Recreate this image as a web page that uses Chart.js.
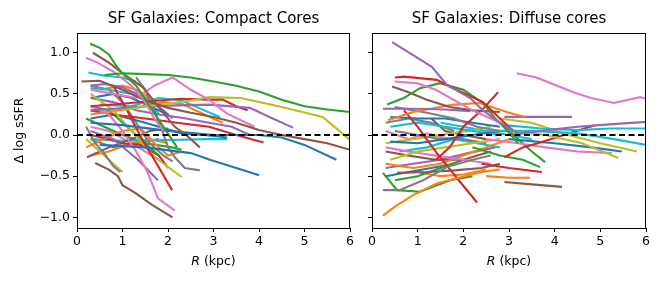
<!DOCTYPE html>
<html lang="en">
<head>
<meta charset="UTF-8">
<title>SF Galaxies profiles</title>
<script src="https://cdn.jsdelivr.net/npm/chart.js"></script>
<style>
  body { margin: 0; background: #fff; }
  #wrap { position: relative; width: 664px; height: 285px; }
  canvas { position: absolute; top: 0; }
</style>
</head>
<body>
<div id="wrap">
  <canvas id="compact" style="left:0" width="358" height="285"></canvas>
  <canvas id="diffuse" style="left:358px" width="306" height="285"></canvas>
</div>
<script>
// tab10 cycle
const C = { blue:'#1f77b4', orange:'#ff7f0e', green:'#2ca02c', red:'#d62728', purple:'#9467bd',
            brown:'#8c564b', pink:'#e377c2', gray:'#7f7f7f', olive:'#bcbd22', cyan:'#17becf' };

const xTicks = [0, 1, 2, 3, 4, 5, 6];
const yTicks = [-1.0, -0.5, 0.0, 0.5, 1.0];

// Compact cores: each profile is a list of [R (kpc), delta log sSFR]
const compactProfiles = [
  [[0.29,1.11],[0.5,1.06],[0.7,0.98],[0.85,0.85],[1.0,0.75],[1.3,0.6],[1.6,0.35],[1.9,0.1],[2.2,-0.15]],
  [[0.6,0.73],[1.0,0.75],[1.5,0.74],[2.0,0.73],[2.5,0.7],[3.0,0.65],[3.5,0.6],[4.0,0.53],[4.5,0.43],[5.0,0.35],[5.5,0.31],[6.0,0.28]],
  [[0.2,0.94],[0.45,0.88],[0.8,0.77],[1.2,0.6],[1.5,0.4],[1.7,0.2],[1.9,0.05]],
  [[0.35,1.0],[0.7,0.88],[1.05,0.73],[1.45,0.58],[1.8,0.34],[2.15,0.1],[2.4,0.0],[2.7,-0.15]],
  [[0.25,0.76],[0.6,0.72],[1.0,0.7],[1.3,0.65]],
  [[0.1,0.65],[0.5,0.66],[1.0,0.55],[1.5,0.42],[2.0,0.33],[2.5,0.27],[3.0,0.22],[3.5,0.15],[4.0,0.06],[4.5,0.0],[5.0,-0.05],[5.5,-0.1],[6.0,-0.18]],
  [[0.3,0.55],[0.8,0.5],[1.3,0.45],[1.7,0.6],[2.1,0.7],[2.5,0.55],[2.9,0.43],[3.3,0.26],[3.9,0.1]],
  [[1.0,0.3],[1.5,0.35],[2.0,0.38],[2.5,0.42],[2.9,0.46],[3.6,0.45],[4.5,0.34],[5.4,0.22],[6.0,-0.06]],
  [[0.3,0.3],[0.8,0.32],[1.5,0.35],[2.2,0.36],[2.9,0.37],[3.8,0.33],[4.3,0.2],[4.75,0.09]],
  [[0.3,0.35],[1.0,0.38],[1.8,0.42],[2.3,0.44],[2.9,0.43],[3.2,0.43],[3.5,0.35],[3.75,0.3]],
  [[0.3,0.15],[1.0,0.12],[2.0,0.05],[3.0,0.0],[4.0,0.0],[4.5,-0.03],[5.0,-0.12],[5.7,-0.3]],
  [[0.5,-0.12],[1.5,-0.15],[2.5,-0.22],[2.92,-0.3],[3.5,-0.4],[4.0,-0.49]],
  [[0.4,-0.34],[0.7,-0.42],[0.9,-0.5],[1.0,-0.61],[1.27,-0.7],[1.65,-0.85],[2.1,-1.0]],
  [[0.3,0.35],[0.7,0.25],[1.0,0.05],[1.3,-0.2],[1.55,-0.45],[1.78,-0.77],[2.15,-0.92]],
  [[0.8,0.6],[1.1,0.3],[1.43,-0.05],[1.7,-0.3],[2.09,-0.67]],
  [[0.3,0.05],[0.8,-0.05],[1.34,-0.3],[1.6,-0.45],[1.78,-0.55]],
  [[0.3,0.5],[0.8,0.3],[1.2,0.05],[1.71,-0.27],[2.3,-0.51]],
  [[0.2,0.1],[0.4,-0.1],[0.62,-0.24],[0.8,-0.38],[0.95,-0.45]],
  [[1.3,0.7],[1.5,0.55],[1.7,0.3],[1.87,0.06],[2.0,-0.15],[2.15,-0.27],[2.37,-0.4],[2.7,-0.43]],
  [[0.3,0.25],[0.9,0.3],[1.5,0.35],[1.9,0.4],[2.3,0.38],[2.8,0.25],[3.2,0.15]],
  [[0.2,-0.15],[0.6,-0.05],[1.0,0.05],[1.4,0.08],[1.7,-0.1],[2.0,-0.25],[2.3,-0.2]],
  [[0.5,0.37],[1.2,0.35],[1.8,0.45],[2.3,0.42],[2.8,0.3],[3.14,0.22]],
  [[0.3,0.3],[0.8,0.25],[1.5,0.2],[2.2,0.15],[2.9,0.1],[3.5,0.0],[4.1,-0.09]],
  [[0.3,0.45],[0.8,0.4],[1.3,0.3],[1.8,0.25],[2.4,0.2],[2.9,0.15],[3.4,0.1],[3.8,0.0]],
  [[0.3,0.2],[0.8,0.25],[1.3,0.18],[1.8,0.1],[2.3,0.02],[2.8,0.0],[3.3,-0.03]],
  [[0.3,0.45],[0.8,0.5],[1.2,0.45],[1.6,0.35],[2.0,0.25]],
  [[0.3,0.57],[0.7,0.55],[1.2,0.5],[1.6,0.4],[1.8,0.25]],
  [[0.3,0.35],[0.7,0.3],[1.1,0.1],[1.5,-0.1],[1.8,-0.25]],
  [[0.2,-0.05],[0.5,-0.2],[0.8,-0.35],[1.0,-0.45]],
  [[0.3,0.6],[0.7,0.55],[1.0,0.4],[1.3,0.15],[1.6,-0.1],[1.9,-0.25],[2.1,-0.32]],
  [[0.3,0.0],[0.7,-0.05],[1.0,-0.1],[1.4,-0.12],[1.8,-0.25],[2.0,-0.4]],
  [[0.22,-0.27],[0.7,-0.15],[1.2,-0.05],[1.6,0.05],[2.0,0.08]],
  [[0.3,-0.05],[1.0,-0.07],[2.0,-0.06],[2.9,-0.05],[3.3,-0.05]],
  [[0.3,-0.25],[0.7,-0.2],[1.2,-0.1],[1.6,-0.05],[2.0,-0.1]],
  [[0.2,0.2],[0.6,0.1],[1.0,0.0],[1.5,-0.1],[2.09,-0.15],[2.3,-0.18]],
  [[0.3,0.1],[0.7,0.05],[1.2,-0.1],[1.5,-0.2],[1.8,-0.3]],
  [[0.3,-0.05],[0.8,-0.15],[1.3,-0.1],[1.8,-0.05]],
  [[0.3,0.6],[0.6,0.62],[1.0,0.58],[1.5,0.45],[1.9,0.3],[2.1,0.2]],
  [[0.5,0.55],[1.0,0.6],[1.3,0.55],[1.6,0.45]]
];
const compactColors = [
  C.green, C.green, C.pink, C.brown, C.cyan, C.brown, C.pink, C.olive, C.purple, C.red,
  C.blue, C.blue, C.brown, C.pink, C.red, C.purple, C.olive, C.gray, C.gray, C.orange,
  C.orange, C.cyan, C.red, C.purple, C.blue, C.blue, C.cyan, C.green, C.olive, C.gray,
  C.red, C.brown, C.cyan, C.orange, C.green, C.pink, C.gray, C.purple, C.orange
];

// Diffuse cores
const diffuseProfiles = [
  [[0.44,1.13],[0.9,0.97],[1.31,0.83],[1.64,0.61],[2.15,0.45],[2.43,0.3],[2.8,0.15],[3.2,0.02]],
  [[0.5,0.7],[0.7,0.71],[1.42,0.67],[1.7,0.59],[2.43,0.4],[2.8,0.2],[3.1,0.05]],
  [[0.5,0.65],[0.99,0.63],[1.4,0.55],[1.78,0.43],[2.2,0.3],[2.6,0.2],[3.0,0.1]],
  [[0.33,0.37],[0.7,0.45],[1.05,0.57],[1.49,0.63],[2.0,0.55],[2.43,0.39],[2.7,0.2],[2.95,0.06],[3.2,-0.1]],
  [[0.44,0.59],[0.8,0.52],[1.2,0.43],[1.7,0.34],[2.2,0.3],[2.8,0.28]],
  [[1.4,-0.3],[1.7,-0.15],[2.0,0.1],[2.4,0.3],[2.76,0.52]],
  [[0.24,0.32],[1.0,0.32],[1.6,0.31],[2.15,0.29]],
  [[0.35,0.18],[0.9,0.28],[1.78,0.37],[2.36,0.39],[3.0,0.27],[3.35,0.22]],
  [[0.5,0.34],[1.2,0.27],[1.8,0.2],[2.3,0.1],[2.8,0.05]],
  [[3.17,0.75],[3.6,0.7],[4.0,0.61],[4.45,0.51],[4.8,0.45],[5.3,0.39],[5.87,0.46],[6.0,0.44]],
  [[2.9,0.22],[3.5,0.22],[4.38,0.22]],
  [[3.0,0.0],[3.7,0.05],[4.5,0.1],[5.2,0.13],[6.0,0.16]],
  [[2.9,0.12],[3.7,0.08],[4.5,0.06],[5.2,0.08],[6.0,0.08]],
  [[2.5,0.05],[3.5,0.05],[4.5,0.02],[5.3,-0.05],[6.0,-0.12]],
  [[2.8,0.2],[3.5,0.15],[4.3,0.0],[5.0,-0.1],[5.8,-0.2]],
  [[3.0,0.05],[3.8,0.0],[4.6,-0.1],[5.4,-0.28]],
  [[2.9,-0.27],[3.3,-0.15],[3.63,-0.1],[4.2,0.0],[4.88,0.12]],
  [[2.4,-0.35],[3.0,-0.4],[3.72,-0.45]],
  [[2.2,-0.15],[2.8,-0.25],[3.3,-0.3],[3.68,-0.39]],
  [[2.5,-0.5],[3.0,-0.52],[3.46,-0.52]],
  [[2.9,-0.57],[3.5,-0.6],[4.16,-0.63]],
  [[3.0,-0.05],[4.0,-0.1],[4.8,-0.15],[5.47,-0.2]],
  [[2.5,-0.05],[3.2,-0.1],[3.8,-0.15],[4.5,-0.2],[5.25,-0.22]],
  [[2.9,0.12],[3.2,-0.05],[3.5,-0.2],[3.79,-0.33]],
  [[0.24,-0.98],[0.5,-0.87],[0.9,-0.73],[1.42,-0.59],[1.9,-0.52],[2.4,-0.45],[2.8,-0.42]],
  [[0.24,-0.67],[0.6,-0.67],[1.12,-0.55],[1.64,-0.39],[2.2,-0.3],[2.6,-0.25]],
  [[0.24,-0.46],[0.55,-0.67],[1.05,-0.69],[1.71,-0.55],[2.2,-0.5]],
  [[0.7,0.3],[1.0,0.1],[1.42,-0.22],[1.9,-0.55],[2.3,-0.82]],
  [[0.55,-0.46],[1.2,-0.45],[1.8,-0.43],[2.4,-0.4],[2.8,-0.35]],
  [[0.4,-0.08],[1.0,-0.1],[1.6,-0.05],[2.2,0.0],[2.8,0.05]],
  [[0.4,0.22],[1.0,0.2],[1.6,0.2],[2.2,0.15],[2.8,0.1]],
  [[0.4,0.1],[1.0,0.15],[1.6,0.1],[2.2,0.05],[2.8,0.0]],
  [[0.4,-0.3],[1.0,-0.2],[1.6,-0.15],[2.2,-0.1],[2.8,-0.05]],
  [[0.3,-0.15],[0.8,-0.2],[1.4,-0.25],[2.0,-0.3],[2.6,-0.35]],
  [[0.5,0.05],[1.0,0.0],[1.5,-0.05],[2.0,-0.05],[2.5,-0.1]],
  [[0.3,-0.35],[0.9,-0.4],[1.5,-0.35],[2.0,-0.25],[2.5,-0.15],[3.0,-0.05]],
  [[0.6,-0.2],[1.2,-0.15],[1.8,-0.05],[2.3,-0.1],[2.8,-0.15]],
  [[0.3,-0.2],[0.8,-0.25],[1.4,-0.3],[2.0,-0.3],[2.6,-0.2]],
  [[0.5,-0.55],[1.0,-0.5],[1.5,-0.4],[2.0,-0.3]],
  [[0.3,-0.4],[0.9,-0.35],[1.5,-0.3],[2.1,-0.22],[2.7,-0.15]],
  [[0.3,-0.1],[0.9,-0.05],[1.5,0.0],[2.1,0.05],[2.6,0.1]],
  [[0.3,-0.5],[0.8,-0.45],[1.3,-0.4],[1.8,-0.35]],
  [[1.0,-0.45],[1.5,-0.5],[2.0,-0.48],[2.5,-0.42]],
  [[1.3,0.2],[1.6,0.05],[2.0,0.0],[2.5,-0.05]],
  [[0.3,0.05],[0.8,-0.05],[1.2,0.02],[1.7,-0.05]],
  [[0.3,0.15],[0.8,0.2],[1.3,0.15],[1.8,0.05]],
  [[1.5,0.15],[2.0,0.1],[2.5,0.05],[3.0,0.0],[3.5,-0.05]]
];
const diffuseColors = [
  C.purple, C.red, C.pink, C.green, C.brown, C.red, C.purple, C.orange, C.gray, C.pink,
  C.purple, C.purple, C.cyan, C.cyan, C.olive, C.olive, C.red, C.red, C.green, C.orange,
  C.brown, C.blue, C.pink, C.green, C.orange, C.gray, C.green, C.red, C.brown, C.blue,
  C.blue, C.cyan, C.olive, C.pink, C.gray, C.orange, C.cyan, C.brown, C.green, C.purple,
  C.olive, C.blue, C.orange, C.brown, C.pink, C.gray, C.cyan
];

const FONT = 'DejaVu Sans';

// frame + panel title + x label drawn round the chart area
const framePlugin = {
  id: 'frame',
  afterDraw(chart, args, opts) {
    const a = chart.chartArea, ctx = chart.ctx;
    ctx.save();
    ctx.strokeStyle = '#000';
    ctx.lineWidth = 1;
    ctx.strokeRect(a.left + 0.5, a.top + 0.5, a.right - a.left - 1, a.bottom - a.top);
    const cx = (a.left + a.right) / 2;
    ctx.fillStyle = '#000';
    ctx.textAlign = 'center';
    ctx.textBaseline = 'middle';
    ctx.font = '15px ' + FONT;
    ctx.fillText(opts.title, cx, 19);
    // "R (kpc)" with italic R
    ctx.font = 'italic 12.5px ' + FONT;
    const wR = ctx.measureText('R').width;
    ctx.font = '12.5px ' + FONT;
    const wRest = ctx.measureText(' (kpc)').width;
    const x0 = cx - (wR + wRest) / 2;
    ctx.textAlign = 'left';
    ctx.font = 'italic 12.5px ' + FONT;
    ctx.fillText('R', x0, 262);
    ctx.font = '12.5px ' + FONT;
    ctx.fillText(' (kpc)', x0 + wR, 262);
    ctx.restore();
  }
};

function makeChart(id, profiles, colors, title, yWidth, padRight, showYLabels) {
  const datasets = [{
    data: [{x: 0, y: 0}, {x: 6, y: 0}],
    borderColor: '#000', borderWidth: 2, borderDash: [6, 3.5]
  }];
  profiles.forEach((p, i) => {
    datasets.push({
      data: p.map(pt => ({x: pt[0], y: pt[1]})),
      borderColor: colors[i % colors.length],
      borderWidth: 2.1
    });
  });
  return new Chart(document.getElementById(id), {
    type: 'scatter',
    data: { datasets },
    plugins: [framePlugin],
    options: {
      responsive: false,
      animation: false,
      showLine: true,
      elements: { point: { radius: 0, hoverRadius: 0 }, line: { tension: 0 } },
      layout: { padding: { top: 33, right: padRight, bottom: 14, left: 0 } },
      plugins: { legend: { display: false }, tooltip: { enabled: false }, frame: { title } },
      scales: {
        x: {
          type: 'linear', min: 0, max: 6,
          afterBuildTicks: s => { s.ticks = xTicks.map(v => ({value: v})); },
          afterFit: s => { s.height = 43; },
          grid: { drawOnChartArea: false, drawTicks: true, tickLength: 4, color: '#000' },
          border: { display: false },
          ticks: { color: '#000', font: { family: FONT, size: 12.5 }, padding: 2, maxRotation: 0,
                   callback: v => String(v) }
        },
        y: {
          type: 'linear', min: -1.13, max: 1.24,
          afterBuildTicks: s => { s.ticks = yTicks.map(v => ({value: v})); },
          afterFit: s => { s.width = yWidth; },
          grid: { drawOnChartArea: false, drawTicks: true, tickLength: 4, color: '#000' },
          border: { display: false },
          ticks: { color: '#000', font: { family: FONT, size: 12.5 }, padding: 3,
                   callback: v => showYLabels ? v.toFixed(1).replace('-', '\u2212') : '' },
          title: { display: showYLabels, text: '\u0394 log sSFR', color: '#000',
                   font: { family: FONT, size: 12.5 }, padding: { top: 12, bottom: 0 } }
        }
      }
    }
  });
}

makeChart('compact', compactProfiles, compactColors, 'SF Galaxies: Compact Cores', 77, 8, true);
makeChart('diffuse', diffuseProfiles, diffuseColors, 'SF Galaxies: Diffuse cores', 14, 18, false);
</script>
</body>
</html>
